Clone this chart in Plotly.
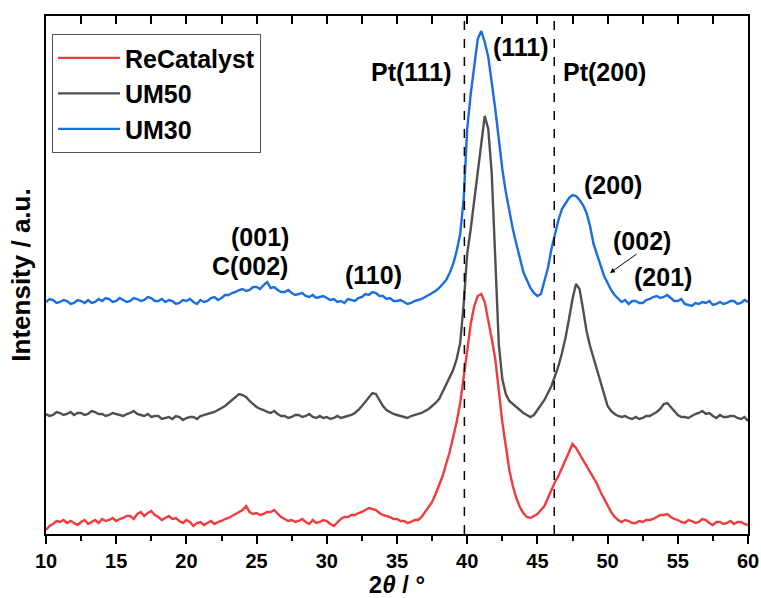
import plotly.graph_objects as go

# 2theta grid (degrees), 0.25 deg steps from 10 to 60
two_theta = [10 + 0.25 * i for i in range(201)]

# Intensities (arbitrary units, curves already offset)
# one row per degree: x, x+0.25, x+0.5, x+0.75
um30 = [232, 235, 234, 231,   # 10
        232, 234, 233, 230,   # 11
        231, 234, 233, 231,   # 12
        234, 231, 232, 235,   # 13
        233, 236, 235, 232,   # 14
        233, 236, 234, 232,   # 15
        233, 236, 235, 233,   # 16
        234, 237, 236, 233,   # 17
        233, 235, 232, 234,   # 18
        233, 230, 231, 234,   # 19
        233, 235, 232, 230,   # 20
        234, 232, 233, 236,   # 21
        237, 234, 236, 239,   # 22
        239, 241, 242, 244,   # 23
        245, 243, 244, 247,   # 24
        247, 245, 249, 252,   # 25
        246, 247, 244, 242,   # 26
        242, 244, 241, 239,   # 27
        240, 241, 238, 237,   # 28
        239, 236, 237, 238,   # 29
        236, 234, 235, 232,   # 30
        233, 231, 235, 234,   # 31
        233, 236, 237, 240,   # 32
        239, 242, 241, 238,   # 33
        238, 235, 236, 233,   # 34
        233, 234, 232, 230,   # 35
        231, 233, 234, 235,   # 36
        237, 239, 241, 243,   # 37
        246, 250, 254, 261,   # 38
        270, 283, 300, 335,   # 39
        405, 440, 470, 495,   # 40
        503, 492, 477, 452,   # 41
        425, 395, 365, 342,   # 42
        322, 305, 290, 275,   # 43
        262, 254, 246, 241,   # 44
        238, 240, 252, 266,   # 45
        285, 300, 314, 325,   # 46
        331, 336, 339, 338,   # 47
        334, 329, 321, 308,   # 48
        290, 279, 268, 258,   # 49
        251, 244, 239, 235,   # 50
        232, 234, 230, 233,   # 51
        233, 231, 231, 234,   # 52
        235, 237, 238, 236,   # 53
        237, 239, 236, 233,   # 54
        233, 235, 230, 229,   # 55
        228, 231, 230, 232,   # 56
        231, 233, 229, 230,   # 57
        232, 230, 231, 233,   # 58
        233, 230, 231, 234,   # 59
        232]                  # 60

um50 = [120, 118, 119, 122,   # 10
        121, 119, 120, 122,   # 11
        119, 121, 121, 119,   # 12
        120, 123, 122, 120,   # 13
        120, 118, 119, 121,   # 14
        120, 119, 118, 120,   # 15
        121, 123, 120, 119,   # 16
        118, 120, 117, 118,   # 17
        118, 115, 116, 117,   # 18
        115, 118, 117, 114,   # 19
        116, 117, 117, 115,   # 20
        118, 119, 120, 121,   # 21
        122, 124, 126, 128,   # 22
        131, 134, 137, 140,   # 23
        139, 137, 133, 130,   # 24
        127, 125, 124, 122,   # 25
        121, 123, 120, 118,   # 26
        118, 116, 117, 119,   # 27
        119, 117, 118, 120,   # 28
        117, 116, 118, 116,   # 29
        117, 115, 116, 118,   # 30
        116, 117, 118, 119,   # 31
        121, 124, 128, 132,   # 32
        136, 141, 140, 134,   # 33
        128, 124, 122, 120,   # 34
        119, 118, 117, 116,   # 35
        118, 119, 120, 121,   # 36
        123, 125, 128, 131,   # 37
        135, 142, 150, 156,   # 38
        164, 175, 191, 230,   # 39
        280, 305, 335, 362,   # 40
        390, 418, 405, 360,   # 41
        270, 190, 155, 140,   # 42
        133, 130, 127, 124,   # 43
        121, 119, 117, 119,   # 44
        124, 128, 134, 141,   # 45
        148, 158, 168, 181,   # 46
        196, 215, 235, 250,   # 47
        245, 225, 203, 188,   # 48
        176, 162, 150, 138,   # 49
        128, 123, 120, 118,   # 50
        117, 118, 116, 115,   # 51
        117, 115, 116, 118,   # 52
        118, 120, 122, 125,   # 53
        130, 131, 127, 123,   # 54
        119, 117, 117, 116,   # 55
        118, 120, 121, 123,   # 56
        120, 121, 118, 116,   # 57
        119, 117, 117, 118,   # 58
        118, 116, 115, 117,   # 59
        113]                  # 60

recatalyst = [4, 8, 10, 13,   # 10
              12, 14, 11, 13,   # 11
              11, 9, 12, 14,    # 12
              10, 12, 14, 11,   # 13
              15, 13, 14, 16,   # 14
              13, 15, 16, 18,   # 15
              18, 15, 20, 22,   # 16
              18, 21, 23, 19,   # 17
              17, 14, 16, 18,   # 18
              15, 16, 13, 11,   # 19
              14, 12, 8, 11,    # 20
              12, 9, 11, 13,    # 21
              10, 12, 13, 15,   # 22
              16, 18, 20, 22,   # 23
              24, 28, 22, 20,   # 24
              21, 19, 20, 22,   # 25
              22, 24, 20, 17,   # 26
              15, 13, 14, 12,   # 27
              13, 15, 12, 10,   # 28
              14, 11, 12, 14,   # 29
              13, 10, 8, 12,    # 30
              15, 17, 17, 19,   # 31
              19, 21, 22, 24,   # 32
              26, 25, 24, 21,   # 33
              19, 18, 17, 15,   # 34
              15, 13, 13, 11,   # 35
              12, 14, 14, 17,   # 36
              22, 26, 32, 40,   # 37
              49, 58, 70, 82,   # 38
              97, 112, 131, 160,   # 39
              183, 210, 228, 238,  # 40
              240, 232, 215, 195,  # 41
              175, 140, 112, 88,   # 42
              64, 48, 36, 27,   # 43
              21, 17, 16, 18,   # 44
              20, 24, 28, 36,   # 45
              45, 52, 58, 66,   # 46
              74, 83, 90, 86,   # 47
              80, 74, 68, 62,   # 48
              56, 50, 42, 35,   # 49
              29, 22, 17, 14,   # 50
              12, 14, 13, 11,   # 51
              11, 13, 12, 14,   # 52
              14, 15, 17, 19,   # 53
              19, 20, 17, 15,   # 54
              14, 12, 11, 14,   # 55
              13, 11, 12, 15,   # 56
              14, 11, 9, 12,    # 57
              12, 10, 11, 13,   # 58
              10, 12, 12, 10,   # 59
              9]                # 60

series_names = ["ReCatalyst", "UM50", "UM30"]
series_values = [recatalyst, um50, um30]
series_colors = ["#F03C3C", "#505050", "#1A6EE0"]

pt_ref_lines = [39.8, 46.2]

x_ticks = [10, 15, 20, 25, 30, 35, 40, 45, 50, 55, 60]

FONT = "Liberation Sans, Arial, sans-serif"

fig = go.Figure()
for name, vals, col in zip(series_names, series_values, series_colors):
    fig.add_trace(go.Scatter(x=two_theta, y=vals, mode="lines", name=name,
                             line=dict(color=col, width=2.4)))

# helper trace to realise the top axis
fig.add_trace(go.Scatter(x=two_theta[:1], y=recatalyst[:1], xaxis="x2",
                         mode="lines", line=dict(width=0), showlegend=False,
                         hoverinfo="skip"))

for xv in pt_ref_lines:
    fig.add_shape(type="line", xref="x", yref="paper", x0=xv, x1=xv, y0=0, y1=1,
                  line=dict(color="black", width=1.5, dash="dash"))

labels = [
    ("Pt(111)", 36.0, 462),
    ("(111)", 43.83, 487),
    ("Pt(200)", 49.8, 462),
    ("(200)", 50.4, 349),
    ("(002)", 52.45, 293),
    ("(201)", 53.95, 257),
    ("(001)", 25.24, 297),
    ("C(002)", 24.53, 268),
    ("(110)", 33.3, 259),
]
for txt, xv, yv in labels:
    fig.add_annotation(x=xv, y=yv, xref="x", yref="y", text="<b>%s</b>" % txt,
                       showarrow=False, font=dict(family=FONT, size=25, color="black"))

fig.add_annotation(x=50.17, y=261, ax=52.17, ay=281, xref="x", yref="y",
                   axref="x", ayref="y", text="", showarrow=True, arrowhead=2,
                   arrowsize=1, arrowwidth=1, arrowcolor="black")

fig.update_layout(
    width=761, height=598,
    margin=dict(l=46, r=13, t=16, b=64),
    paper_bgcolor="white", plot_bgcolor="white",
    font=dict(family=FONT, color="black"),
    showlegend=True,
    legend=dict(x=0.0085, y=0.965, xanchor="left", yanchor="top",
                bordercolor="#555555", borderwidth=1, bgcolor="white",
                itemwidth=62,
                font=dict(family=FONT, size=25, color="black", weight="bold"),
                tracegroupgap=0),
    xaxis=dict(range=[10, 60], tickvals=x_ticks, ticks="outside", ticklen=8,
               tickwidth=2, tickcolor="black", showline=True, linewidth=2,
               linecolor="black", showgrid=False, zeroline=False,
               automargin=False,
               tickfont=dict(family=FONT, size=20, color="black", weight="bold"),
               minor=dict(ticks="outside", ticklen=5, tickwidth=2, dtick=2.5,
                          tick0=10, tickcolor="black", showgrid=False),
               title=dict(text="<b>2<i>θ</i> / °</b>",
                          font=dict(family=FONT, size=24, color="black"),
                          standoff=0)),
    xaxis2=dict(range=[10, 60], overlaying="x", side="top", matches="x",
                ticks="inside", ticklen=8, tickwidth=2, tickcolor="black",
                dtick=2.5, tick0=10, showticklabels=False, showline=True,
                linewidth=2, linecolor="black", showgrid=False, zeroline=False,
                automargin=False),
    yaxis=dict(range=[0, 518], showticklabels=False, ticks="", showline=True,
               mirror=True, linewidth=2, linecolor="black", showgrid=False,
               zeroline=False, automargin=False,
               title=dict(text="<b>Intensity / a.u.</b>",
                          font=dict(family=FONT, size=26, color="black"),
                          standoff=6)),
)

assert len(two_theta) == len(um30) == len(um50) == len(recatalyst)

fig.write_html("out.html",
               config={"displayModeBar": False},
               post_script="document.body.style.margin='0px';"
                           "document.body.style.padding='0px';")
